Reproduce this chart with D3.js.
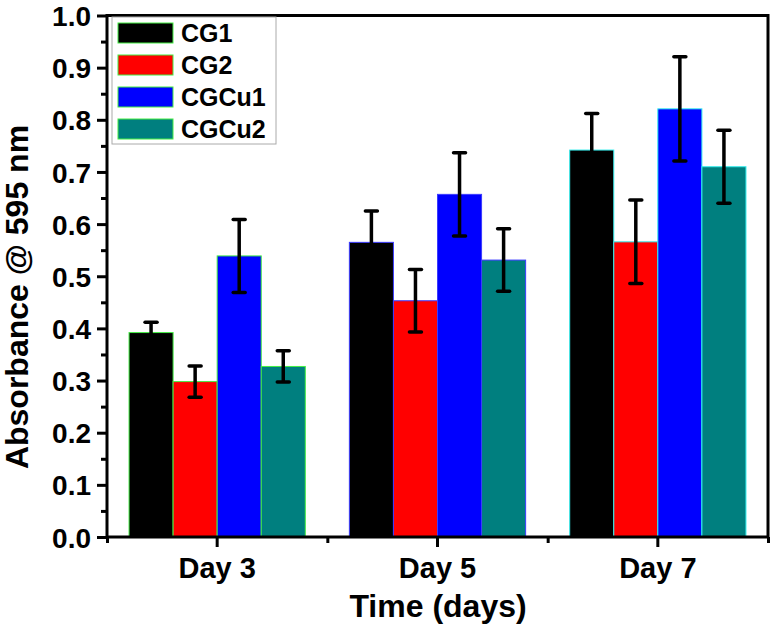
<!DOCTYPE html>
<html>
<head>
<meta charset="utf-8">
<script src="https://cdn.jsdelivr.net/npm/d3@7"></script>
<style>
  body { margin: 0; background: #fff; }
  text { font-family: "Liberation Sans", Arial, sans-serif; font-weight: bold; fill: #000; }
</style>
</head>
<body>
<svg id="chart" width="774" height="641"></svg>
<script>
// data
var days = ["Day 3", "Day 5", "Day 7"];
var groups = ["CG1", "CG2", "CGCu1", "CGCu2"];
var cg1 = [0.392, 0.565, 0.742];
var cg2 = [0.298, 0.453, 0.566];
var cgcu1 = [0.539, 0.657, 0.821];
var cgcu2 = [0.327, 0.531, 0.710];
var errCg1 = [0.02, 0.06, 0.07];
var errCg2 = [0.03, 0.06, 0.08];
var errCgcu1 = [0.07, 0.08, 0.10];
var errCgcu2 = [0.03, 0.06, 0.07];
var yTicks = [0, 0.1, 0.2, 0.3, 0.4, 0.5, 0.6, 0.7, 0.8, 0.9, 1.0];

var fills = ["#000000", "#ff0000", "#0000ff", "#007f7f"];
var edgeByDay = ["#44ee44", "#3b3bff", "#33eeee"];

var values = [cg1, cg2, cgcu1, cgcu2];
var errs = [errCg1, errCg2, errCgcu1, errCgcu2];

// plot box (note: "top" is a reserved window prop, so use other names)
var pL = 107, pR = 768, pT = 15.5, pB = 537;
var svg = d3.select("#chart");

var x0 = d3.scaleBand().domain(days).range([pL, pR]).paddingInner(0).paddingOuter(0);
var x1 = d3.scaleBand().domain(groups).range([0, x0.bandwidth()]).paddingOuter(0.5);
var y = d3.scaleLinear().domain([0, 1]).range([pB, pT]);

// bars
var rows = [];
days.forEach(function(d, i) {
    groups.forEach(function(g, j) {
        rows.push({ day: d, di: i, g: g, gi: j, v: values[j][i], e: errs[j][i] });
    });
});

svg.append("g").selectAll("rect")
    .data(rows).enter().append("rect")
    .attr("x", function(r) { return x0(r.day) + x1(r.g); })
    .attr("y", function(r) { return y(r.v); })
    .attr("width", x1.bandwidth())
    .attr("height", function(r) { return y(0) - y(r.v); })
    .attr("fill", function(r) { return fills[r.gi]; })
    .attr("stroke", function(r) { return edgeByDay[r.di]; })
    .attr("stroke-width", 1);

// error bars
var eb = svg.append("g").attr("stroke", "#000").attr("stroke-width", 3.5);
rows.forEach(function(r) {
    var cx = x0(r.day) + x1(r.g) + x1.bandwidth() / 2;
    eb.append("line").attr("x1", cx).attr("x2", cx).attr("y1", y(r.v + r.e)).attr("y2", y(r.v - r.e));
    [r.v + r.e, r.v - r.e].forEach(function(v) {
        eb.append("line").attr("x1", cx - 6).attr("x2", cx + 6).attr("y1", y(v)).attr("y2", y(v))
            .attr("stroke-linecap", "round");
    });
});

// y axis
var yAxis = svg.append("g").attr("transform", "translate(" + pL + ",0)")
    .call(d3.axisLeft(y).tickValues(yTicks).tickFormat(d3.format(".1f")).tickSize(10).tickPadding(6));
yAxis.selectAll("text").style("font-size", "28px").attr("dy", "0.36em");
svg.append("g").attr("transform", "translate(" + pL + ",0)")
    .call(d3.axisLeft(y).tickValues(d3.range(0.05, 1, 0.1)).tickFormat("").tickSize(6));

// x axis
var xAxis = svg.append("g").attr("transform", "translate(0," + pB + ")")
    .call(d3.axisBottom(x0).tickSize(10).tickPadding(10));
xAxis.selectAll("text").style("font-size", "29px").attr("dy", "0.72em");
svg.append("g").attr("transform", "translate(0," + pB + ")")
    .call(d3.axisBottom(d3.scaleLinear().domain([0, 3]).range([pL, pR])).tickValues([0, 1, 2, 3]).tickFormat("").tickSize(6));

svg.selectAll(".domain").remove();
svg.selectAll(".tick line").attr("stroke", "#000").attr("stroke-width", 3);

// frame
svg.append("rect")
    .attr("x", pL).attr("y", pT)
    .attr("width", pR - pL).attr("height", pB - pT)
    .attr("fill", "none").attr("stroke", "#000").attr("stroke-width", 3);

// legend
var lg = svg.append("g");
lg.append("rect").attr("x", 112).attr("y", pT + 1.5).attr("width", 164).attr("height", 127)
    .attr("fill", "#fff").attr("stroke", "#aaa").attr("stroke-width", 1);
groups.forEach(function(g, j) {
    var cy = 33 + j * 32;
    lg.append("rect").attr("x", 118).attr("y", cy - 10).attr("width", 55).attr("height", 20)
        .attr("fill", fills[j]).attr("stroke", "#44ee44").attr("stroke-width", 1);
    lg.append("text").attr("x", 181).attr("y", cy).attr("dy", "0.36em")
        .style("font-size", "25px").text(g);
});

// axis titles
svg.append("text")
    .attr("transform", "translate(28,297) rotate(-90)")
    .attr("text-anchor", "middle")
    .style("font-size", "32px")
    .text("Absorbance @ 595 nm");

svg.append("text")
    .attr("x", 438).attr("y", 617)
    .attr("text-anchor", "middle")
    .style("font-size", "32px")
    .text("Time (days)");
</script>
</body>
</html>
